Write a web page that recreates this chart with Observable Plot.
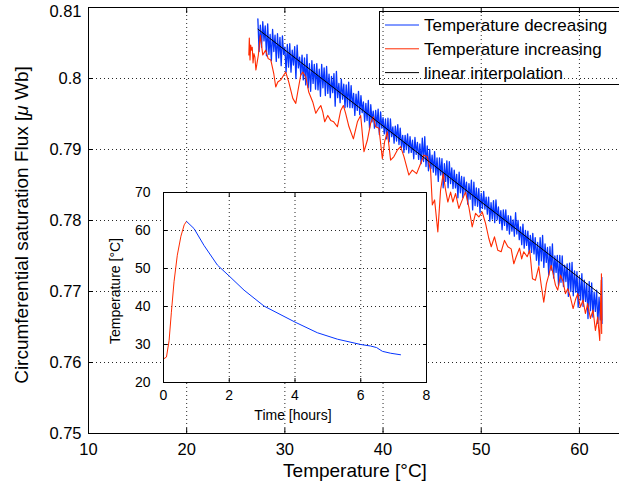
<!DOCTYPE html>
<html><head><meta charset="utf-8">
<script src="https://cdn.jsdelivr.net/npm/d3@7"></script>
<script src="https://cdn.jsdelivr.net/npm/@observablehq/plot@0.6"></script>
<style>
html,body{margin:0;padding:0;background:#fff;overflow:hidden;}
#wrap{position:relative;width:619px;height:482px;overflow:hidden;background:#fff;}
</style></head><body><div id="wrap"></div>
<script>
// ---------- main chart data ----------
const blueTemp = [
27.25,27.375,27.5,27.625,27.75,27.875,28,28.125,
28.25,28.375,28.5,28.625,28.75,28.875,29,29.125,
29.25,29.375,29.5,29.625,29.75,29.875,30,30.125,
30.25,30.375,30.5,30.625,30.75,30.875,31,31.125,
31.25,31.375,31.5,31.625,31.75,31.875,32,32.125,
32.25,32.375,32.5,32.625,32.75,32.875,33,33.125,
33.25,33.375,33.5,33.625,33.75,33.875,34,34.125,
34.25,34.375,34.5,34.625,34.75,34.875,35,35.125,
35.25,35.375,35.5,35.625,35.75,35.875,36,36.125,
36.25,36.375,36.5,36.625,36.75,36.875,37,37.125,
37.25,37.375,37.5,37.625,37.75,37.875,38,38.125,
38.25,38.375,38.5,38.625,38.75,38.875,39,39.125,
39.25,39.375,39.5,39.625,39.75,39.875,40,40.125,
40.25,40.375,40.5,40.625,40.75,40.875,41,41.125,
41.25,41.375,41.5,41.625,41.75,41.875,42,42.125,
42.25,42.375,42.5,42.625,42.75,42.875,43,43.125,
43.25,43.375,43.5,43.625,43.75,43.875,44,44.125,
44.25,44.375,44.5,44.625,44.75,44.875,45,45.125,
45.25,45.375,45.5,45.625,45.75,45.875,46,46.125,
46.25,46.375,46.5,46.625,46.75,46.875,47,47.125,
47.25,47.375,47.5,47.625,47.75,47.875,48,48.125,
48.25,48.375,48.5,48.625,48.75,48.875,49,49.125,
49.25,49.375,49.5,49.625,49.75,49.875,50,50.125,
50.25,50.375,50.5,50.625,50.75,50.875,51,51.125,
51.25,51.375,51.5,51.625,51.75,51.875,52,52.125,
52.25,52.375,52.5,52.625,52.75,52.875,53,53.125,
53.25,53.375,53.5,53.625,53.75,53.875,54,54.125,
54.25,54.375,54.5,54.625,54.75,54.875,55,55.125,
55.25,55.375,55.5,55.625,55.75,55.875,56,56.125,
56.25,56.375,56.5,56.625,56.75,56.875,57,57.125,
57.25,57.375,57.5,57.625,57.75,57.875,58,58.125,
58.25,58.375,58.5,58.625,58.75,58.875,59,59.125,
59.25,59.375,59.5,59.625,59.75,59.875,60,60.125,
60.25,60.375,60.5,60.625,60.75,60.875,61,61.125,
61.25,61.375,61.5,61.625,61.75,61.875,62,62.125,
62.25,62.28,62.3];
const blueFlux = [
0.8084,0.8038,0.8075,0.8044,0.8080,0.8053,0.8074,0.8032,
0.8077,0.8034,0.8062,0.8025,0.8069,0.8038,0.8061,0.8024,
0.8063,0.8029,0.8058,0.8018,0.8060,0.8034,0.8044,0.8009,
0.8048,0.8016,0.8049,0.8009,0.8040,0.8019,0.8045,0.8000,
0.8047,0.8015,0.8030,0.8005,0.8033,0.7998,0.8029,0.7991,
0.8034,0.7987,0.8021,0.7982,0.8025,0.7993,0.8020,0.7985,
0.8021,0.7984,0.8013,0.7975,0.8020,0.7987,0.8015,0.7976,
0.8017,0.7979,0.8006,0.7973,0.8003,0.7980,0.8007,0.7961,
0.8010,0.7973,0.7993,0.7966,0.7999,0.7971,0.7992,0.7959,
0.7991,0.7960,0.7995,0.7959,0.7990,0.7959,0.7979,0.7948,
0.7978,0.7955,0.7982,0.7949,0.7976,0.7952,0.7967,0.7939,
0.7965,0.7941,0.7969,0.7930,0.7963,0.7939,0.7954,0.7930,
0.7955,0.7932,0.7957,0.7921,0.7953,0.7930,0.7945,0.7922,
0.7943,0.7915,0.7944,0.7911,0.7943,0.7918,0.7932,0.7909,
0.7933,0.7912,0.7935,0.7907,0.7930,0.7903,0.7920,0.7896,
0.7920,0.7900,0.7922,0.7895,0.7918,0.7896,0.7913,0.7887,
0.7917,0.7893,0.7910,0.7886,0.7908,0.7880,0.7916,0.7883,
0.7918,0.7876,0.7905,0.7870,0.7900,0.7873,0.7892,0.7868,
0.7897,0.7864,0.7888,0.7855,0.7888,0.7864,0.7887,0.7846,
0.7880,0.7855,0.7884,0.7846,0.7883,0.7852,0.7874,0.7845,
0.7871,0.7846,0.7865,0.7832,0.7868,0.7839,0.7862,0.7832,
0.7861,0.7838,0.7854,0.7823,0.7852,0.7830,0.7857,0.7815,
0.7854,0.7821,0.7846,0.7820,0.7845,0.7811,0.7838,0.7817,
0.7841,0.7816,0.7833,0.7809,0.7833,0.7799,0.7825,0.7802,
0.7828,0.7797,0.7829,0.7801,0.7819,0.7796,0.7814,0.7787,
0.7815,0.7793,0.7815,0.7786,0.7807,0.7781,0.7806,0.7785,
0.7801,0.7778,0.7811,0.7781,0.7800,0.7773,0.7791,0.7766,
0.7795,0.7761,0.7786,0.7765,0.7785,0.7754,0.7779,0.7755,
0.7782,0.7753,0.7776,0.7744,0.7769,0.7737,0.7776,0.7743,
0.7779,0.7734,0.7767,0.7741,0.7762,0.7723,0.7763,0.7730,
0.7767,0.7719,0.7750,0.7727,0.7751,0.7708,0.7751,0.7713,
0.7750,0.7707,0.7737,0.7714,0.7739,0.7693,0.7740,0.7700,
0.7741,0.7694,0.7729,0.7699,0.7728,0.7678,0.7721,0.7688,
0.7725,0.7679,0.7716,0.7686,0.7711,0.7662,0.7714,0.7673,
0.7712,0.7664,0.7699,0.7672,0.7702,0.7655,0.7692,0.7660,
0.7685,0.7720,0.7655];
const redTemp = [26.33,26.38,26.45,26.52,26.6,26.68,26.76,26.85,26.95,27.05,27.3,27.5,27.75,28.05,28.3,28.57,28.87,29.07,29.28,29.58,29.89,30.09,30.4,30.81,31.11,31.31,31.62,31.82,32.13,32.43,32.84,33.15,33.45,33.66,33.86,34.06,34.37,34.67,34.97,35.35,35.69,35.96,36.19,36.53,36.98,37.39,37.72,38.06,38.4,38.74,39.01,39.25,39.58,39.93,40.16,40.44,40.77,41.11,41.45,41.79,42.13,42.63,42.98,43.42,43.82,44.16,44.51,44.84,45.02,45.25,45.58,45.86,46.13,46.37,46.6,46.88,47.11,47.39,47.72,48.07,48.4,48.74,49.08,49.42,49.76,50.1,50.44,50.77,51.02,51.35,51.69,52.03,52.37,52.71,53.05,53.32,53.56,53.9,54.12,54.33,54.68,54.94,55.22,55.52,55.86,56.13,56.37,56.64,56.88,57.12,57.32,57.56,57.79,58.07,58.34,58.58,58.81,59.08,59.36,59.59,59.83,60.1,60.37,60.61,60.84,61.12,61.39,61.63,61.86,62.07,62.21,62.27,62.24,62.3];
const redFlux = [0.8033,0.8057,0.8026,0.8047,0.8040,0.8044,0.8022,0.8035,0.8030,0.8012,0.8033,0.8061,0.8033,0.8040,0.8028,0.8026,0.8007,0.7988,0.7995,0.7998,0.8005,0.8009,0.7995,0.7972,0.7965,0.7981,0.8005,0.8009,0.8002,0.7981,0.7967,0.7951,0.7958,0.7962,0.7953,0.7939,0.7948,0.7941,0.7939,0.7932,0.7955,0.7962,0.7951,0.7932,0.7915,0.7939,0.7948,0.7897,0.7913,0.7937,0.7946,0.7932,0.7930,0.7887,0.7911,0.7925,0.7885,0.7890,0.7899,0.7904,0.7890,0.7864,0.7871,0.7866,0.7880,0.7892,0.7890,0.7871,0.7822,0.7829,0.7784,0.7843,0.7866,0.7843,0.7826,0.7840,0.7826,0.7838,0.7817,0.7829,0.7840,0.7819,0.7791,0.7810,0.7805,0.7812,0.7796,0.7775,0.7763,0.7777,0.7758,0.7756,0.7772,0.7763,0.7760,0.7739,0.7749,0.7761,0.7746,0.7756,0.7749,0.7758,0.7718,0.7716,0.7735,0.7707,0.7685,0.7711,0.7723,0.7737,0.7725,0.7709,0.7702,0.7723,0.7714,0.7697,0.7704,0.7692,0.7676,0.7688,0.7697,0.7678,0.7688,0.7669,0.7683,0.7662,0.7674,0.7645,0.7664,0.7631,0.7716,0.7641,0.7725,0.7660];
const fitTemp = [27.27, 62.14];
const fitFlux = [0.80694, 0.76962];

const xTicks = [10, 20, 30, 40, 50, 60];
const xTickLabels = ["10", "20", "30", "40", "50", "60"];
const yTicks = [0.75, 0.76, 0.77, 0.78, 0.79, 0.8, 0.81];
const yTickLabels = ["0.75", "0.76", "0.77", "0.78", "0.79", "0.8", "0.81"];

const legendLabels = ["Temperature decreasing", "Temperature increasing", "linear interpolation"];
const seriesColors = ["#0535ff", "#ff2a00", "#000000"];

// ---------- inset data ----------
const heatTime = [0.02, 0.09, 0.17, 0.24, 0.32, 0.42, 0.53, 0.63, 0.70];
const heatTemp = [26.3, 26.7, 31.0, 38.5, 46.5, 53.5, 58.5, 61.5, 62.4];
const coolTime = [0.70, 0.93, 1.23, 1.64, 2.0, 2.45, 3.06, 4.0, 4.68, 5.29, 6.0, 6.3, 6.48, 6.66, 6.91, 7.21];
const coolTemp = [62.4, 60.5, 56.1, 50.9, 48.0, 44.3, 40.1, 35.9, 33.1, 31.4, 30.0, 29.6, 29.2, 28.2, 27.7, 27.3];
const insetXTicks = [0, 2, 4, 6, 8];
const insetYTicks = [20, 30, 40, 50, 60, 70];

// ---------- drawing ----------
const FONT = "'Liberation Sans', Arial, Helvetica, sans-serif";
const wrap = document.getElementById("wrap");
const gridStyle = {stroke: "#000", strokeOpacity: 0.85, strokeWidth: 1, strokeDasharray: "1,3"};
const rows = (xs, ys) => xs.map((x, i) => ({x, y: ys[i]}));
const yLab = d => yTickLabels[yTicks.indexOf(d)];

const main = Plot.plot({
  width: 629, height: 482,
  marginLeft: 88, marginRight: 1, marginTop: 7, marginBottom: 49,
  style: {background: "transparent", fontFamily: FONT, color: "#000", maxWidth: "none", overflow: "visible"},
  x: {domain: [10, 65], label: null},
  y: {domain: [0.75, 0.81], label: null},
  marks: [
    Plot.gridX(xTicks.filter(d => d > 10), gridStyle),
    Plot.gridY(yTicks.filter(d => d > 0.75 && d < 0.81), gridStyle),
    Plot.line(rows(blueTemp, blueFlux), {x: "x", y: "y", stroke: seriesColors[0], strokeWidth: 1.3}),
    Plot.line(rows(redTemp, redFlux), {x: "x", y: "y", stroke: seriesColors[1], strokeWidth: 1.1}),
    Plot.line(rows(fitTemp, fitFlux), {x: "x", y: "y", stroke: seriesColors[2], strokeWidth: 1}),
    Plot.frame({stroke: "#000", strokeWidth: 1}),
    Plot.axisX(xTicks, {anchor: "bottom", tickSize: 0, tickPadding: 10, fontSize: 16.5, label: null,
      tickFormat: d => xTickLabels[xTicks.indexOf(d)]}),
    Plot.axisX(xTicks, {anchor: "bottom", tickSize: -5, tickFormat: () => "", label: null}),
    Plot.axisX(xTicks, {anchor: "top", tickSize: -5, tickFormat: () => "", label: null}),
    Plot.axisY(yTicks.slice(0, -1), {anchor: "left", tickSize: 0, tickPadding: 7, fontSize: 16.5, label: null, tickFormat: yLab}),
    Plot.axisY(yTicks.slice(-1), {anchor: "left", tickSize: 0, tickPadding: 7, fontSize: 16.5, label: null, tickFormat: yLab, dy: 4}),
    Plot.axisY(yTicks, {anchor: "left", tickSize: -5, tickFormat: () => "", label: null})
  ]
});
main.style.position = "absolute";
main.style.left = "0px";
main.style.top = "0px";
wrap.appendChild(main);

const sm = d3.select(main);
sm.append("text")
  .attr("transform", "translate(21,225) rotate(-90)")
  .attr("text-anchor", "middle").attr("dy", "0.35em")
  .attr("font-size", 19).attr("font-family", FONT).attr("fill", "#000")
  .call(t => {
    t.append("tspan").text("Circumferential saturation Flux [");
    t.append("tspan").attr("font-style", "italic").text("μ");
    t.append("tspan").text(" Wb]");
  });
sm.append("text")
  .attr("x", 355).attr("y", 470).attr("dy", "0.35em")
  .attr("text-anchor", "middle")
  .attr("font-size", 19).attr("font-family", FONT).attr("fill", "#000")
  .text("Temperature [°C]");

// inset
const inset = Plot.plot({
  width: 337, height: 240,
  marginLeft: 70, marginRight: 4, marginTop: 10, marginBottom: 40,
  style: {background: "transparent", fontFamily: FONT, color: "#000", maxWidth: "none", overflow: "visible"},
  x: {domain: [0, 8], label: null},
  y: {domain: [20, 70], label: null},
  marks: [
    Plot.frame({fill: "#fff"}),
    Plot.gridX(insetXTicks.filter(d => d > 0 && d < 8), gridStyle),
    Plot.gridY(insetYTicks.filter(d => d > 20 && d < 70), gridStyle),
    Plot.line(rows(heatTime, heatTemp), {x: "x", y: "y", stroke: seriesColors[1], strokeWidth: 1}),
    Plot.line(rows(coolTime, coolTemp), {x: "x", y: "y", stroke: seriesColors[0], strokeWidth: 1}),
    Plot.frame({stroke: "#000", strokeWidth: 1}),
    Plot.axisX(insetXTicks, {anchor: "bottom", tickSize: 0, tickPadding: 8, fontSize: 14, label: null, tickFormat: d => String(d)}),
    Plot.axisX(insetXTicks, {anchor: "bottom", tickSize: -4, tickFormat: () => "", label: null}),
    Plot.axisX(insetXTicks, {anchor: "top", tickSize: -4, tickFormat: () => "", label: null}),
    Plot.axisY(insetYTicks, {anchor: "left", tickSize: 0, tickPadding: 13, fontSize: 14, label: null, tickFormat: d => String(d)}),
    Plot.axisY(insetYTicks, {anchor: "left", tickSize: -4, tickFormat: () => "", label: null}),
    Plot.axisY(insetYTicks, {anchor: "right", tickSize: -4, tickFormat: () => "", label: null})
  ]
});
inset.style.position = "absolute";
inset.style.left = "93px";
inset.style.top = "182px";
wrap.appendChild(inset);
const si = d3.select(inset);
si.append("text")
  .attr("transform", "translate(22,109) rotate(-90)")
  .attr("text-anchor", "middle").attr("dy", "0.35em")
  .attr("font-size", 14).attr("font-family", FONT).attr("fill", "#000")
  .text("Temperature [°C]");
si.append("text")
  .attr("x", 200).attr("y", 233).attr("dy", "0.35em")
  .attr("text-anchor", "middle")
  .attr("font-size", 14).attr("font-family", FONT).attr("fill", "#000")
  .text("Time [hours]");

// legend
const leg = d3.create("svg")
  .attr("width", 619).attr("height", 482)
  .style("position", "absolute").style("left", "0px").style("top", "0px");
leg.append("rect").attr("x", 379.5).attr("y", 11.5).attr("width", 300).attr("height", 73)
  .attr("fill", "none").attr("stroke", "#000");
legendLabels.forEach((lab, i) => {
  const y = 25 + i * 23.8;
  leg.append("line").attr("x1", 385).attr("x2", 419).attr("y1", y).attr("y2", y)
    .attr("stroke", seriesColors[i]).attr("stroke-width", 1);
  leg.append("text").attr("x", 424).attr("y", y).attr("dy", "0.35em")
    .attr("font-size", 17).attr("font-family", FONT).attr("fill", "#000").text(lab);
});
wrap.appendChild(leg.node());
</script>
</body></html>
